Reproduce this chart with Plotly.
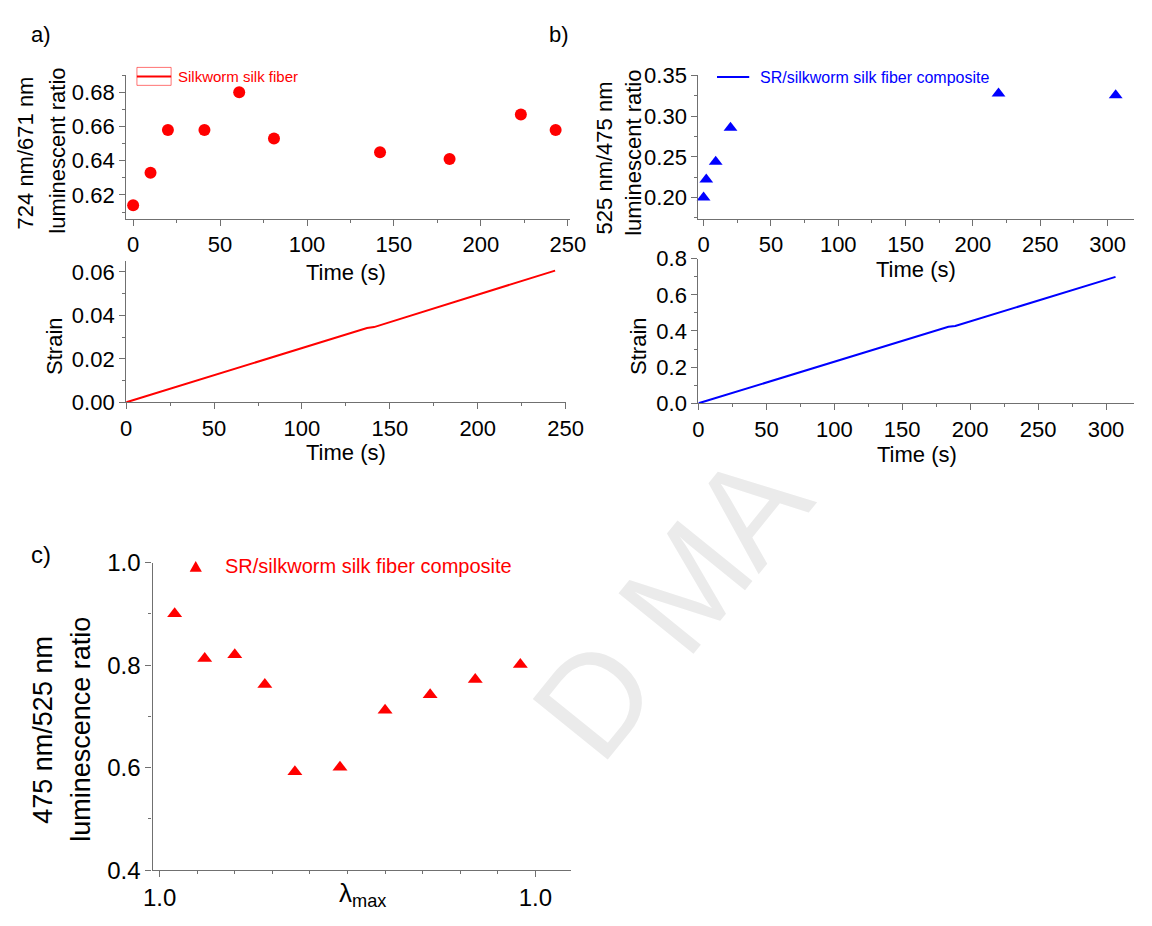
import plotly.graph_objects as go

W, H = 1152, 926
FONT = "Arial, Liberation Sans, sans-serif"
RED = "#ff0000"
BLUE = "#0000ff"
AXC = "#707070"

# ---------------- data ----------------
# panel a (top): luminescent ratio vs time
a_time = [0, 10, 20, 41, 61, 81, 142, 182, 223, 243]
a_ratio = [0.614, 0.633, 0.658, 0.658, 0.680, 0.653, 0.645, 0.641, 0.667, 0.658]
# panel a (bottom): strain vs time
a_strain_time = [0, 137, 141, 244]
a_strain = [0, 0.0342, 0.0346, 0.0606]
# panel b (top)
b_time = [0, 2, 9, 20, 219, 306]
b_ratio = [0.200, 0.222, 0.244, 0.286, 0.328, 0.326]
# panel b (bottom)
b_strain_time = [0, 184, 189, 307]
b_strain = [0, 0.423, 0.428, 0.699]
# panel c
c_lambda = [1.002, 1.006, 1.010, 1.014, 1.018, 1.024, 1.030, 1.036, 1.042, 1.048]
c_ratio = [0.900, 0.813, 0.820, 0.762, 0.592, 0.601, 0.712, 0.742, 0.772, 0.801]
c_tickvals = [1.00, 1.05]
c_ticktext = ["1.0", "1.0"]


def px(x):
    return x / W


def py(y):
    return 1 - y / H


def axis(dom, rng, dtick, minor, fmt=None, anchor=None, vertical=False, **kw):
    if vertical:
        d = [py(dom[1]), py(dom[0])]
    else:
        d = [px(dom[0]), px(dom[1])]
    a = dict(domain=d, range=rng, anchor=anchor, showline=True, linecolor=AXC,
             linewidth=1.3, ticks="outside", ticklen=6, tickwidth=1.2, tickcolor=AXC,
             showgrid=False, zeroline=False,
             tickfont=dict(size=22, color="black", family=FONT),
             minor=dict(dtick=minor, ticks="outside", ticklen=3, tickwidth=1.2,
                        tickcolor=AXC, showgrid=False))
    if dtick is not None:
        a["dtick"] = dtick
        a["tick0"] = 0
    if fmt:
        a["tickformat"] = fmt
    a.update(kw)
    return a


fig = go.Figure()

fig.add_trace(go.Scatter(x=a_time, y=a_ratio, mode="markers", xaxis="x", yaxis="y",
                         marker=dict(symbol="circle", size=12, color=RED),
                         cliponaxis=False, showlegend=False))
fig.add_trace(go.Scatter(x=a_strain_time, y=a_strain, mode="lines", xaxis="x2", yaxis="y2",
                         line=dict(color=RED, width=2), showlegend=False))
fig.add_trace(go.Scatter(x=b_time, y=b_ratio, mode="markers", xaxis="x3", yaxis="y3",
                         marker=dict(symbol="triangle-up", size=12, color=BLUE),
                         cliponaxis=False, showlegend=False))
fig.add_trace(go.Scatter(x=b_strain_time, y=b_strain, mode="lines", xaxis="x4", yaxis="y4",
                         line=dict(color=BLUE, width=2), showlegend=False))
fig.add_trace(go.Scatter(x=c_lambda, y=c_ratio, mode="markers", xaxis="x5", yaxis="y5",
                         marker=dict(symbol="triangle-up", size=13, color=RED),
                         cliponaxis=False, showlegend=False))

layout = dict(
    width=W, height=H, margin=dict(l=0, r=0, t=0, b=0),
    paper_bgcolor="white", plot_bgcolor="white",
    font=dict(family=FONT, color="black"),
    xaxis=axis([120, 574], [-4, 251], 50, 25, anchor="y"),
    yaxis=axis([63, 211], [0.606, 0.690], 0.02, 0.01, ".2f", anchor="x", vertical=True),
    xaxis2=axis([120, 570], [0, 250], 50, 25, anchor="y2"),
    yaxis2=axis([254, 400], [0, 0.0652], 0.02, 0.01, ".2f", anchor="x2", vertical=True),
    xaxis3=axis([706, 1152], [-3.8, 319.6], 50, 25, anchor="y3"),
    yaxis3=axis([62.7, 210.7], [0.174, 0.351], 0.05, 0.025, ".2f", anchor="x3", vertical=True),
    xaxis4=axis([706, 1152], [0, 320.6], 50, 25, anchor="y4"),
    yaxis4=axis([252, 401], [0, 0.8], 0.2, 0.1, ".1f", anchor="x4", vertical=True),
    xaxis5=axis([147, 575], [0.99906, 1.05468], None, 0.005, anchor="y5",
                tickvals=c_tickvals, ticktext=c_ticktext,
                tickfont=dict(size=24, color="black", family=FONT)),
    yaxis5=axis([565, 882], [0.4, 1.0], 0.2, 0.1, ".1f", anchor="x5", vertical=True,
                tickfont=dict(size=24, color="black", family=FONT)),
)
layout["xaxis5"]["minor"]["tick0"] = 1.0


def ann(text, x, y, size, color="black", angle=0, xanchor="center", yanchor="middle"):
    return dict(text=text, x=px(x), y=py(y), xref="paper", yref="paper", showarrow=False,
                font=dict(size=size, color=color, family=FONT), textangle=angle,
                xanchor=xanchor, yanchor=yanchor)


WM = "#ebebeb"
annotations = [
    # faint watermark fragments ("D MA")
    ann("D", 600, 705, 140, WM, angle=-51),
    ann("M", 693, 590, 140, WM, angle=-51),
    ann("A", 759, 508, 140, WM, angle=-51),
    # panel labels
    ann("a)", 33, 21, 22),
    ann("b)", 563, 21, 22),
    ann("c)", 33, 557, 24),
    # panel a titles
    ann("724 nm/671 nm", 17, 143, 22, angle=-90),
    ann("luminescent ratio", 50, 141, 22, angle=-90),
    ann("Time (s)", 345, 266, 22),
    ann("Strain", 46, 342, 22, angle=-90),
    ann("Time (s)", 345, 452, 22),
    # panel b titles
    ann("525 nm/475 nm", 610, 148, 22, angle=-90),
    ann("luminescent ratio", 640, 143, 22, angle=-90),
    ann("Time (s)", 929, 263, 22),
    ann("Strain", 644, 342, 22, angle=-90),
    ann("Time (s)", 930, 454, 22),
    # panel c titles
    ann("475 nm/525 nm", 34, 737, 27, angle=-90),
    ann("luminescence ratio", 73, 737, 27, angle=-90),
    ann("λ<sub>max</sub>", 362, 907, 26),
    # legends
    ann("Silkworm silk fiber", 171, 64, 15, RED, xanchor="left"),
    ann("SR/silkworm silk fiber composite", 767, 65, 16, BLUE, xanchor="left"),
    ann("SR/silkworm silk fiber composite", 219, 569, 20, RED, xanchor="left"),
]

shapes = [
    dict(type="rect", xref="paper", yref="paper", x0=px(131), x1=px(166), y0=py(73.5), y1=py(55),
         line=dict(color="rgba(255,0,0,0.55)", width=1)),
    dict(type="line", xref="paper", yref="paper", x0=px(131), x1=px(166), y0=py(64.3), y1=py(64.3),
         line=dict(color=RED, width=2)),
    dict(type="line", xref="paper", yref="paper", x0=px(725), x1=px(758), y0=py(65), y1=py(65),
         line=dict(color=BLUE, width=2)),
    dict(type="path", xref="paper", yref="paper",
         path="M {} {} L {} {} L {} {} Z".format(px(185), py(574.5), px(197.5), py(574.5), px(191.2), py(563.5)),
         fillcolor=RED, line=dict(color=RED, width=0)),
]

layout["annotations"] = annotations
layout["shapes"] = shapes
fig.update_layout(**layout)

fig.write_html("out.html", config={"displayModeBar": False},
               post_script="document.body.style.margin='0';document.body.style.overflow='hidden';")
